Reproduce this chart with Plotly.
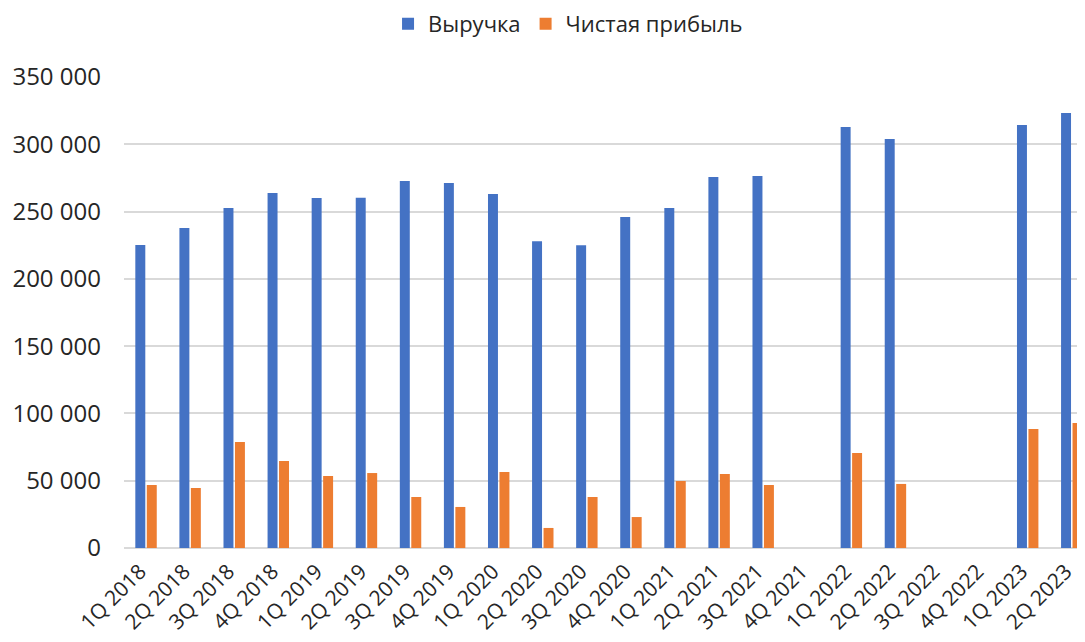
import plotly.graph_objects as go

categories = ["1Q 2018", "2Q 2018", "3Q 2018", "4Q 2018", "1Q 2019", "2Q 2019", "3Q 2019", "4Q 2019",
              "1Q 2020", "2Q 2020", "3Q 2020", "4Q 2020", "1Q 2021", "2Q 2021", "3Q 2021", "4Q 2021",
              "1Q 2022", "2Q 2022", "3Q 2022", "4Q 2022", "1Q 2023", "2Q 2023"]
revenue = [225200, 237800, 252700, 263800, 260100, 260200, 272700, 271200,
           263000, 228000, 225000, 246000, 252700, 275700, 276400, None,
           312800, 303900, None, None, 314300, 323200]
net_profit = [46800, 44600, 78800, 64700, 53500, 55700, 37900, 30500,
              56500, 14900, 37900, 23000, 49800, 55000, 46800, None,
              70600, 47600, None, None, 88400, 92900]

FONT = "Open Sans, Roboto, sans-serif"

fig = go.Figure()
fig.add_trace(go.Bar(x=categories, y=revenue, name="Выручка", marker_color="#4472C4",
                     marker_line_width=0))
fig.add_trace(go.Bar(x=categories, y=net_profit, name="Чистая прибыль", marker_color="#ED7D31",
                     marker_line_width=0))

fig.update_layout(
    width=1077, height=634,
    margin=dict(l=116, r=0, t=69, b=94),
    plot_bgcolor="white", paper_bgcolor="white",
    font=dict(family=FONT, size=22, color="#262626"),
    barmode="group", bargap=0.48, bargroupgap=0.13,
    separators=", ",
    legend=dict(orientation="h", x=0.52, xref="container", xanchor="center",
                y=0.975, yref="container", yanchor="middle",
                font=dict(size=22), itemwidth=30, traceorder="normal"),
    showlegend=True,
)
fig.update_xaxes(type="category", range=[-0.5, 21.3], tickangle=-45, showgrid=False,
                 showline=False, ticks="", tickfont=dict(size=21), automargin=False,
                 ticklabelshift=-6, ticklabelstandoff=6)
fig.update_yaxes(range=[0, 350000], dtick=50000, tickformat=",d", showgrid=True,
                 gridcolor="#d9d9d9", gridwidth=2, zeroline=True, zerolinecolor="#d9d9d9",
                 zerolinewidth=2, showline=False, ticks="", ticklabelstandoff=22,
                 tickfont=dict(size=24), automargin=False)

fig.write_html("out.html")
